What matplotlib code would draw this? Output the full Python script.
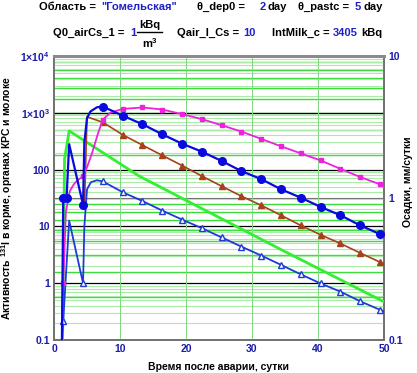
import numpy as np
import matplotlib
matplotlib.use("Agg")
import matplotlib.pyplot as plt
from matplotlib.lines import Line2D

plt.rcParams['font.family'] = ['Liberation Sans', 'DejaVu Sans']
plt.rcParams['font.weight'] = 'bold'
plt.rcParams['mathtext.fontset'] = 'custom'
plt.rcParams['mathtext.rm'] = 'Liberation Sans:bold'
plt.rcParams['mathtext.it'] = 'Liberation Sans:bold'
plt.rcParams['mathtext.bf'] = 'Liberation Sans:bold'

# данные (сутки после аварии, активность)
mark_days = [1.4, 4.4, 7.4, 10.4, 13.4, 16.4, 19.4, 22.4, 25.4, 28.4, 31.4,
             34.4, 37.4, 40.4, 43.4, 46.4, 49.4]

t_pink = [1.2, 1.4, 1.8, 2.4, 3.0, 3.5, 4.4, 5.0, 5.7, 6.7, 7.4, 8.5, 10.4,
          13.4, 16.4, 19.4, 22.4, 25.4, 28.4, 31.4, 34.4, 37.4, 40.4, 43.4, 46.4, 49.4, 50.0]
a_pink = [0.1, 1.0, 18, 42, 55, 64, 77, 110, 185, 445, 760, 1000, 1170,
          1242, 1143, 948, 774, 604, 467, 347, 257, 193, 145, 103, 74, 55, 52]

t_blue = [1.2, 1.4, 1.9, 2.3, 4.4, 4.6, 5.0, 5.5, 6.5, 7.4, 10.4,
          13.4, 16.4, 19.4, 22.4, 25.4, 28.4, 31.4, 34.4, 37.4, 40.4, 43.4, 46.4, 49.4, 50.0]
a_blue = [0.1, 31, 31, 280, 24, 300, 800, 1050, 1250, 1290, 890,
          630, 418, 286, 207, 142, 94, 68, 45, 32, 22, 15.7, 10.4, 7.3, 6.9]

t_brown = [4.6, 5.0, 7.4, 10.4, 13.4, 16.4, 19.4, 22.4, 25.4, 28.4, 31.4,
           34.4, 37.4, 40.4, 43.4, 46.4, 49.4, 50.0]
a_brown = [20, 850, 680, 410, 270, 178, 118, 77, 51, 34, 23.5,
           15.7, 10.4, 7.1, 5.0, 3.4, 2.35, 2.2]

t_tri = [1.2, 1.4, 2.3, 4.4, 4.6, 5.0, 5.6, 6.5, 7.4, 10.4,
         13.4, 16.4, 19.4, 22.4, 25.4, 28.4, 31.4, 34.4, 37.4, 40.4, 43.4, 46.4, 49.4, 50.0]
a_tri = [0.1, 0.22, 12.6, 1.0, 10, 45, 60, 65, 62, 40,
         28, 19, 13.2, 9.3, 6.4, 4.4, 3.07, 2.1, 1.43, 0.99, 0.71, 0.48, 0.34, 0.32]

t_green = [1.3, 1.6, 2.3, 12.9, 20.2, 35.0, 50.0]
a_green = [0.1, 155, 480, 77, 28, 3.6, 0.47]

x_ticks = [0, 10, 20, 30, 40, 50]
y_ticks = [0.1, 1, 10, 100, 1e3, 1e4]
y_labels = ['0.1', '1', '10', '100', r'1×10$^3$', r'1×10$^4$']
y2_ticks = [0.1, 1, 10]
y2_labels = ['0.1', '1', '10']

W, H = 417, 373
tick_col = '#1c1ca8'
val_col = '#2020c8'

fig = plt.figure(figsize=(W / 100, H / 100), dpi=100)
ax = fig.add_axes([54 / W, 1 - 340 / H, 330 / W, 284 / H])
ax2 = ax.twinx()
ax.set_zorder(ax2.get_zorder() + 1)
ax.patch.set_visible(False)

# сетка правой оси (осадки)
ax2.set_yscale('log')
ax2.set_ylim(0.1, 10)
for d in [0.1, 1]:
    for k in range(2, 10):
        ax2.axhline(k * d, color='#3cdc3c', lw=1.0, zorder=0)
ax2.axhline(1, color='#707070', lw=0.8, zorder=0)
ax2.set_yticks(y2_ticks)
ax2.set_yticklabels(y2_labels)
ax2.minorticks_off()
ax2.tick_params(axis='y', length=0, pad=3, labelsize=7.5, labelcolor=tick_col)
fig.text(408 / W, 1 - 182 / H, 'Осадки, мм/сутки', fontsize=7.5, fontweight='bold',
         rotation=90, ha='center', va='center')

# сетка левой оси
ax.set_yscale('log')
ax.set_ylim(0.1, 1e4)
ax.set_xlim(0, 50)
for d in [0.1, 1, 10, 100, 1000]:
    for k in range(2, 10):
        ax.axhline(k * d, color='#a8eca8', lw=0.8, zorder=0)
for v in [1, 10, 100, 1000]:
    ax.axhline(v, color='black', lw=0.9, zorder=0)
for x in [10, 20, 30, 40]:
    ax.axvline(x, color='#80d880', lw=0.7, zorder=0)


def marks(t):
    return [i for i, x in enumerate(t) if np.any(np.isclose(x, mark_days))]


ax.plot(t_green, a_green, color='#33ee33', lw=2.0, zorder=3)
ax.plot(t_brown, a_brown, color='#a8401c', lw=1.2, marker='^', ms=4.5,
        markevery=marks(t_brown), zorder=4)
ax.plot(t_tri, a_tri, color='#1f3ad8', lw=1.3, marker='^', ms=4.5, mfc='white',
        markevery=marks(t_tri), zorder=4)
ax.plot(t_pink, a_pink, color='#ee22dd', lw=1.3, marker='s', ms=3.5,
        markevery=marks(t_pink), zorder=5)
ax.plot(t_blue, a_blue, color='#0a0ae0', lw=1.6, marker='o', ms=5.5,
        markevery=marks(t_blue) + [2], zorder=6)

ax.set_xticks(x_ticks)
ax.set_yticks(y_ticks)
ax.set_yticklabels(y_labels)
ax.minorticks_off()
ax.tick_params(length=0, labelsize=7.5, labelcolor=tick_col, pad=3)
ax.set_xlabel('Время после аварии, сутки', fontsize=7.5, fontweight='bold', labelpad=6)
ax.set_ylabel(r'Активность $^{131}$I в корме, органах КРС и молоке',
              fontsize=7.5, fontweight='bold', labelpad=4)

for a in (ax, ax2):
    for s in a.spines.values():
        s.set_color('#707070')
        s.set_linewidth(1.2)
    a.spines['top'].set_linewidth(2.0)
    a.spines['top'].set_color('#8a8a8a')


def txt(x, y, s, col='black', **kw):
    fig.text(x / W, 1 - y / H, s, color=col, fontsize=8, fontweight='bold',
             va='baseline', ha='left', **kw)


# заголовок
txt(39, 10, 'Область =')
txt(101, 10, '"Гомельская"', val_col)
txt(197, 10, 'θ_dep0 =')
txt(260, 10, '2', val_col)
txt(268, 10, 'day')
txt(298, 10, 'θ_pastc =')
txt(355, 10, '5', val_col)
txt(363, 10, 'day')

txt(53, 36, 'Q0_airCs_1 =')
txt(130, 36, '1', val_col)
fig.text(150 / W, 1 - 28 / H, 'kBq', fontsize=8, fontweight='bold', ha='center', va='baseline')
fig.add_artist(Line2D([137 / W, 162 / W], [1 - 32 / H, 1 - 32 / H], color='black', lw=1))
fig.text(150 / W, 1 - 48 / H, r'm$^3$', fontsize=8, fontweight='bold', ha='center', va='baseline')
txt(177, 36, 'Qair_I_Cs =')
txt(243, 36, '10', val_col)
txt(272, 36, 'IntMilk_c =')
txt(333, 36, '3405', val_col)
txt(361, 36, 'kBq')

fig.savefig('out.png', dpi=100)
